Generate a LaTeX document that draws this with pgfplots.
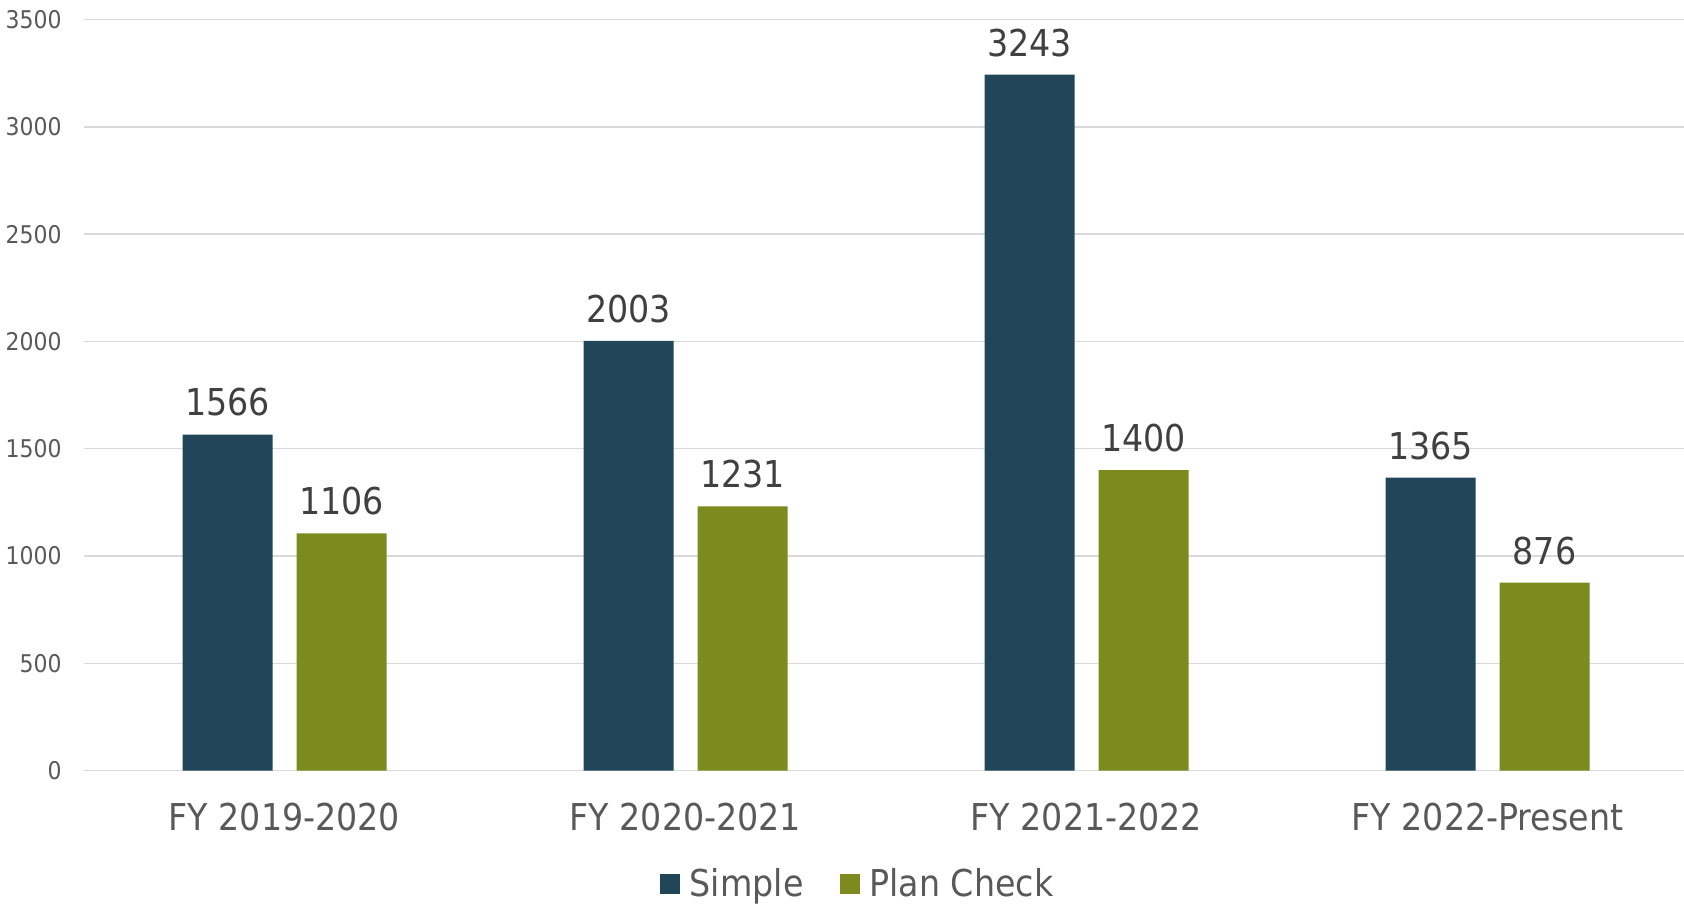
\documentclass[border=0pt]{standalone}
\usepackage{pgfplots}
\pgfplotsset{compat=1.18}
\usepackage{fontspec}
\setmainfont{DejaVu Sans Condensed}

\definecolor{simpleblue}{HTML}{21465A}
\definecolor{planolive}{HTML}{7D8A1E}
\definecolor{gridgray}{HTML}{D9D9D9}
\definecolor{labelgray}{HTML}{595959}
\definecolor{valuegray}{HTML}{404040}

\begin{document}
\begin{tikzpicture}
\useasboundingbox (-42pt,-67.15pt) rectangle (800pt,385.3pt);
\begin{axis}[
  at={(0,0)}, anchor=south west,
  scale only axis,
  width=800pt, height=375.5pt,
  xmin=-0.5, xmax=3.49,
  ymin=0, ymax=3500,
  ytick={0,500,...,3500},
  xtick={0,1,2,3},
  xticklabels={FY 2019-2020, FY 2020-2021, FY 2021-2022, FY 2022-Present},
  axis line style={draw=none},
  major tick length=0pt,
  ymajorgrids,
  grid style={gridgray, line width=0.75pt},
  /pgf/number format/assume math mode=true,
  /pgf/number format/1000 sep={},
  yticklabel style={font=\fontsize{12.2}{14}\selectfont, text=labelgray, anchor=east, inner sep=0pt, xshift=-11pt},
  xticklabel style={font=\fontsize{18.5}{22}\selectfont, text=labelgray, anchor=base, inner sep=0pt, yshift=-29.7pt},
  ybar, bar width=45pt,
  nodes near coords,
  every node near coord/.append style={font=\fontsize{18.5}{22}\selectfont, text=valuegray, anchor=base, inner sep=0pt, yshift=9.3pt},
  legend style={at={(0.486,-0.1515)}, anchor=center, draw=none, fill=none,
    legend columns=2, font=\fontsize{18.5}{22}\selectfont, text=labelgray,
    /tikz/every even column/.append style={column sep=13pt},
    nodes={inner xsep=5pt, inner ysep=0pt}},
  legend image code/.code={\fill[#1] (0pt,-4.9pt) rectangle (10pt,5.1pt);},
]
\addplot[fill=simpleblue, draw=none, bar shift=-28.5pt]
  coordinates {(0,1566) (1,2003) (2,3243) (3,1365)};
\addplot[fill=planolive, draw=none, bar shift=28.5pt]
  coordinates {(0,1106) (1,1231) (2,1400) (3,876)};
\legend{Simple, Plan Check}
\end{axis}
\end{tikzpicture}
\end{document}
